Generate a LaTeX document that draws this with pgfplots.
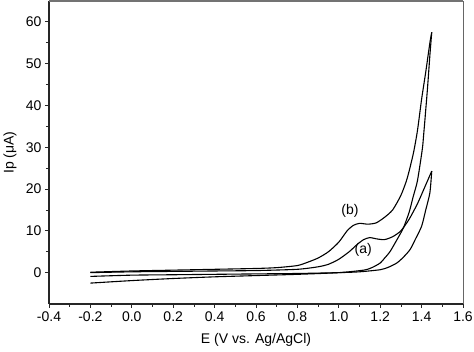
\documentclass[border=0pt]{standalone}
\usepackage{pgfplots}
\pgfplotsset{compat=1.18}
\usepackage{fontspec}
\setmainfont{Liberation Sans}
\begin{document}
\begin{tikzpicture}[x=1pt,y=1pt]
\begin{axis}[
  scale only axis, width=414pt, height=303pt,
  xmin=-0.4, xmax=1.6, ymin=-7.5, ymax=65,
  axis x line*=bottom, axis y line*=left,
  axis line style={line width=1.2pt, black!85},
  xtick={-0.4,-0.2,...,1.61}, ytick={0,10,...,60},
  minor x tick num=1, minor y tick num=1,
  tick align=outside, major tick length=4pt, minor tick length=3pt,
  tick style={line width=0.8pt, black!85},
  /pgf/number format/assume math mode=true,
  font=\fontsize{14}{16}\selectfont,
  ticklabel style={font=\fontsize{14}{16}\selectfont},
  xticklabel style={/pgf/number format/.cd, fixed, fixed zerofill, precision=1},
  yticklabel style={/pgf/number format/.cd, fixed, precision=0},
  xlabel={E (V vs. Ag/AgCl)}, ylabel={Ip (μA)},
  xlabel style={at={(axis description cs:0.5,-0.119)}, anchor=center},
  ylabel style={at={(axis description cs:-0.094,0.5)}, anchor=center, rotate=0},
  clip=false,
]
% top and right frame
\draw[line width=1.6pt, black!55] (rel axis cs:0,1) -- (rel axis cs:1,1);
\draw[line width=0.8pt, black!60] (rel axis cs:1,0) -- (rel axis cs:1,1);
% (b) forward
\addplot[black, line width=1.1pt, smooth, tension=0.4] coordinates {
(-0.2,0.1) (0,0.4) (0.2,0.6) (0.4,0.8) (0.6,1.0) (0.7,1.2) (0.8,1.7) (0.85,2.5) (0.9,3.5) (0.95,5.0)
(1.0,7.3) (1.04,10.0) (1.07,11.3) (1.10,11.8) (1.14,11.6) (1.18,11.9) (1.22,13.2) (1.26,15.0)
(1.30,18.5) (1.33,22.5) (1.36,28.5) (1.38,34) (1.40,41.5) (1.42,48) (1.44,55) (1.449,57.5)};
% (b) reverse
\addplot[black, line width=1.1pt, smooth, tension=0.4] coordinates {
(1.449,57.5) (1.44,52) (1.428,43.8) (1.41,33) (1.403,29.4) (1.38,22) (1.36,18.3) (1.34,14.5)
(1.312,10.7) (1.28,7.8) (1.247,5.0) (1.22,3.4) (1.2,2.3) (1.16,1.2) (1.12,0.6) (1.0,0.0)
(0.8,-0.4) (0.6,-0.7) (0.4,-1.0) (0.2,-1.4) (0,-1.9) (-0.2,-2.5)};
% (a) forward
\addplot[black, line width=1.1pt, smooth, tension=0.4] coordinates {
(-0.2,0.0) (0,0.2) (0.2,0.3) (0.4,0.4) (0.6,0.5) (0.8,0.8) (0.9,1.4) (0.95,2.0) (1.0,3.2)
(1.05,5.0) (1.09,6.8) (1.12,7.9) (1.15,8.4) (1.18,8.1) (1.22,7.9) (1.26,8.6) (1.30,10.0)
(1.34,12.8) (1.38,16.5) (1.42,21) (1.449,24.3)};
% (a) reverse
\addplot[black, line width=1.1pt, smooth, tension=0.4] coordinates {
(1.449,24.3) (1.44,19.1) (1.42,15) (1.40,11.1) (1.37,8.0) (1.344,5.5) (1.31,3.6) (1.28,2.3)
(1.24,1.3) (1.2,0.7) (1.1,0.2) (1.0,0.0) (0.8,-0.2) (0.6,-0.3) (0.4,-0.4) (0.2,-0.5)
(0,-0.6) (-0.2,-0.9)};
\node[font=\fontsize{14}{16}\selectfont] at (axis cs:1.054,14.7) {(b)};
\node[font=\fontsize{14}{16}\selectfont] at (axis cs:1.118,5.5) {(a)};
\end{axis}
\pgfresetboundingbox
\path (current axis.south west) ++(-49pt,-48pt) rectangle ++(474pt,352pt);
\end{tikzpicture}
\end{document}
